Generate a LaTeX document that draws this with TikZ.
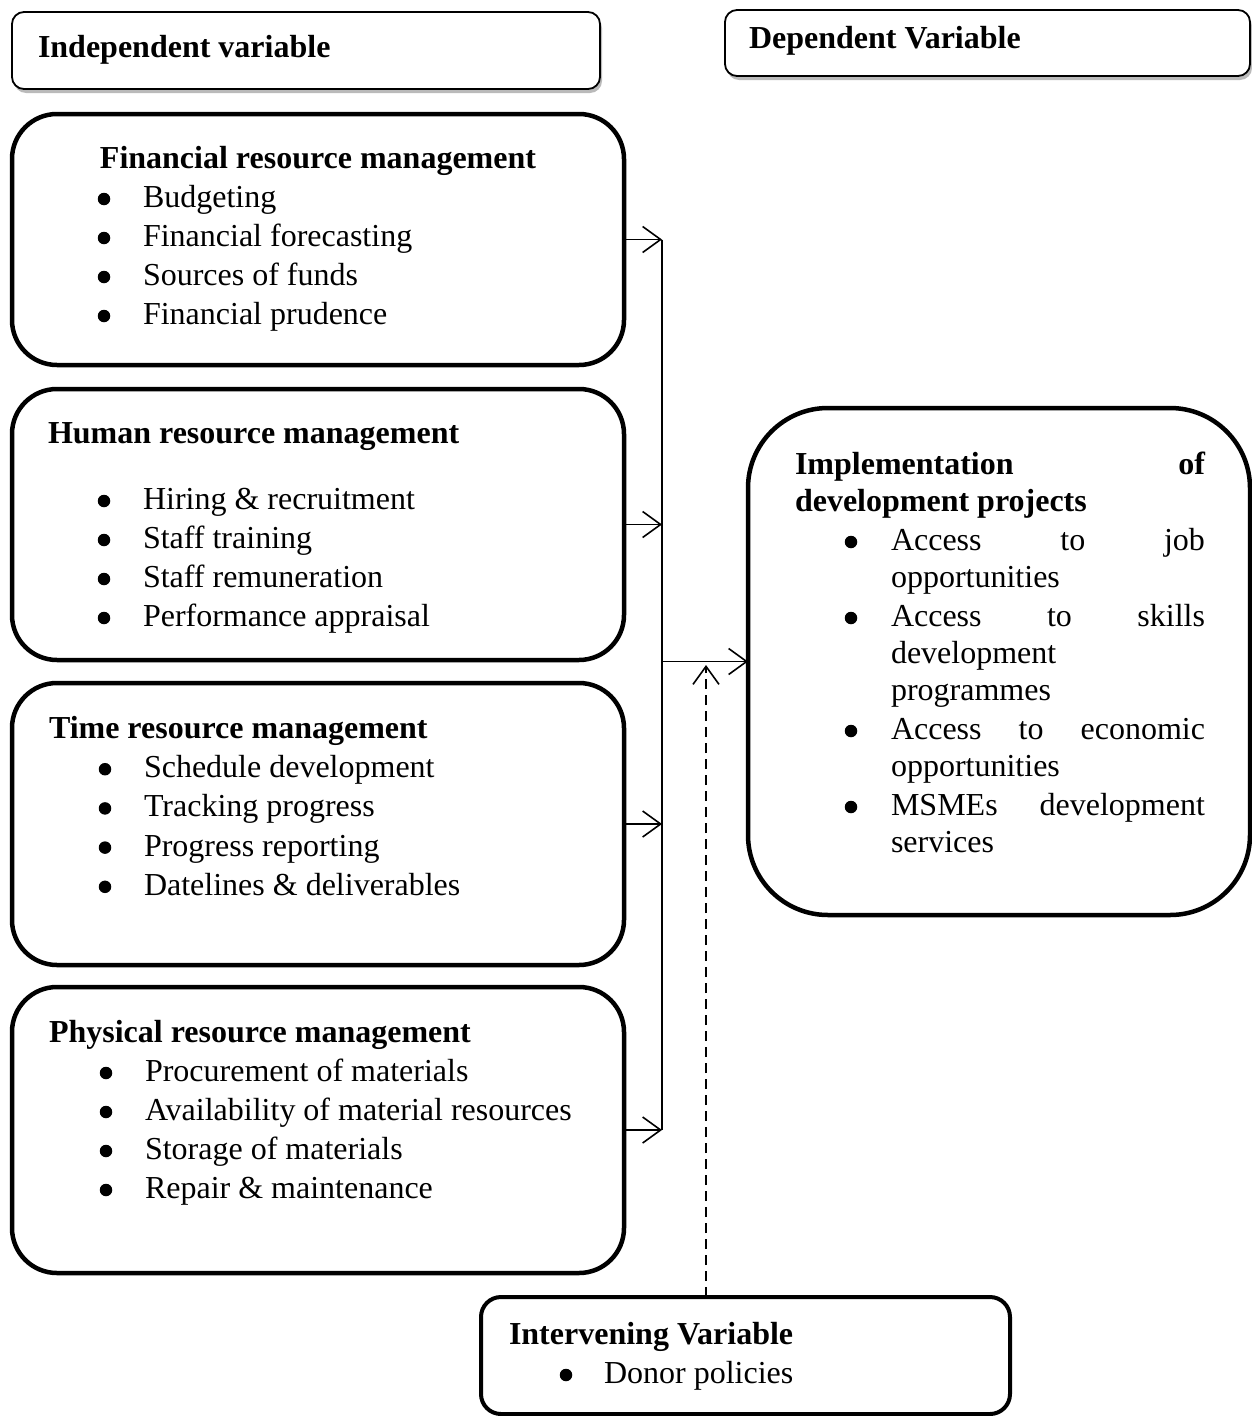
\documentclass[tikz,border=0pt]{standalone}
\usepackage{fontspec}
\setmainfont{Liberation Serif}
\usetikzlibrary{arrows.meta,shadows}
\begin{document}
\begin{tikzpicture}[x=1pt,y=-1pt,
 every node/.style={inner sep=0pt, outer sep=0pt, font=\fontsize{32}{39}\selectfont},
 txt/.style={anchor=base west},
 ttl/.style={anchor=base west, font=\fontsize{32}{39}\selectfont\bfseries},
 bul/.style={circle, fill=black, minimum size=12.5pt, yshift=8.5pt},
 bigbox/.style={draw, line width=4.5pt, rounded corners=45pt},
 topbox/.style={draw, line width=1.8pt, rounded corners=12pt, fill=white,
   drop shadow={shadow xshift=2pt, shadow yshift=-4pt, fill=black!45, opacity=0.6}},
 conn/.style={line width=1.6pt},
 arr/.style={conn, -{Straight Barb[length=18pt,width=26pt,line width=1.6pt]}},
]
\useasboundingbox (0,0) rectangle (1252,1416);

% header boxes
\node[topbox, minimum width=588pt, minimum height=77pt] (indep) at (306,50.5) {};
\node[ttl] (indept) at (38,57) {Independent variable};
\node[topbox, minimum width=525pt, minimum height=66pt] (dep) at (987.5,43) {};
\node[ttl] (dept) at (749,48) {Dependent Variable};

% independent boxes
\node[bigbox, minimum width=612pt, minimum height=251pt] (fin) at (318,239.5) {};
\node[ttl, anchor=base] (fint) at (318,168.5) {Financial resource management};
\foreach \t [count=\i] in {Budgeting,Financial forecasting,Sources of funds,Financial prudence}{
  \node[bul] (finb\i) at (104,{168.5+39*\i}) {};
  \node[txt] (fini\i) at (143,{168.5+39*\i}) {\t};
}

\node[bigbox, minimum width=612pt, minimum height=271pt] (hum) at (318,524.5) {};
\node[ttl] (humt) at (48,443.5) {Human resource management};
\foreach \t [count=\i] in {Hiring \& recruitment,Staff training,Staff remuneration,Performance appraisal}{
  \node[bul] (humb\i) at (104,{470.5+39*\i}) {};
  \node[txt] (humi\i) at (143,{470.5+39*\i}) {\t};
}

\node[bigbox, minimum width=612pt, minimum height=282pt] (tim) at (318,824) {};
\node[ttl] (timt) at (49,738.5) {Time resource management};
\foreach \t [count=\i] in {Schedule development,Tracking progress,Progress reporting,Datelines \& deliverables}{
  \node[bul] (timb\i) at (105,{738.5+39.2*\i}) {};
  \node[txt] (timi\i) at (144,{738.5+39.2*\i}) {\t};
}

\node[bigbox, minimum width=612pt, minimum height=286pt] (phys) at (318,1130) {};
\node[ttl] (physt) at (49,1042.5) {Physical resource management};
\foreach \t [count=\i] in {Procurement of materials,Availability of material resources,Storage of materials,Repair \& maintenance}{
  \node[bul] (physb\i) at (106,{1042.5+39*\i}) {};
  \node[txt] (physi\i) at (145,{1042.5+39*\i}) {\t};
}

% dependent box
\node[bigbox, rounded corners=80pt, minimum width=502pt, minimum height=507pt] (impl) at (999,661.5) {};
\node[ttl] (implt1) at (795,474.5) {\hbox to 410pt{Implementation\hfill of}};
\node[ttl] (implt2) at (795,511.5) {development projects};
\node[bul] (implb1) at (851,550.5) {};
\node[txt] (impli1) at (891,550.5) {\hbox to 314pt{Access\hfill to\hfill job}};
\node[txt] (impli1b) at (891,587.5) {opportunities};
\node[bul] (implb2) at (851,626.5) {};
\node[txt] (impli2) at (891,626.5) {\hbox to 314pt{Access\hfill to\hfill skills}};
\node[txt] (impli2b) at (891,663.5) {development};
\node[txt] (impli2c) at (891,700.5) {programmes};
\node[bul] (implb3) at (851,739.5) {};
\node[txt] (impli3) at (891,739.5) {\hbox to 314pt{Access\hfill to\hfill economic}};
\node[txt] (impli3b) at (891,776.5) {opportunities};
\node[bul] (implb4) at (851,815.5) {};
\node[txt] (impli4) at (891,815.5) {\hbox to 314pt{MSMEs\hfill development}};
\node[txt] (impli4b) at (891,852.5) {services};

% intervening box
\node[draw, line width=4pt, rounded corners=20pt, minimum width=529pt, minimum height=117pt] (interv) at (745.5,1355.5) {};
\node[ttl] (intervt) at (509,1344.5) {Intervening Variable};
\node[bul] (intervb) at (566,1383.5) {};
\node[txt] (intervi) at (604,1383.5) {Donor policies};

% connectors
\coordinate (bus) at (662,0);
\coordinate (dx) at (706,0);
\coordinate (dtip) at (706,665);
\draw[conn] (fin.east -| bus) -- (phys.east -| bus);
\draw[arr] (fin.east) -- (fin.east -| bus);
\draw[arr] (hum.east) -- (hum.east -| bus);
\draw[arr] (tim.east) -- (tim.east -| bus);
\draw[arr] (phys.east) -- (phys.east -| bus);
\draw[arr] (impl.west -| bus) -- (impl.west);
\draw[arr, dash pattern=on 10pt off 6pt] (interv.north -| dx) -- (dtip);
\end{tikzpicture}
\end{document}
